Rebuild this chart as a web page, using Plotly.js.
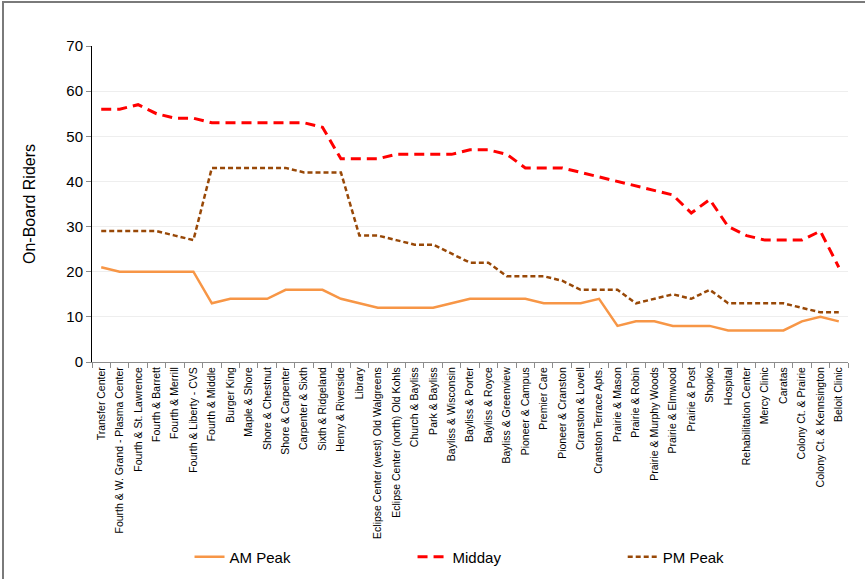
<!DOCTYPE html>
<html>
<head>
<meta charset="utf-8">
<script src="https://cdn.plot.ly/plotly-3.0.1.min.js"></script>
<style>
  html, body { margin: 0; padding: 0; background: #fff; }
  #wrap { position: relative; width: 865px; height: 579px; overflow: hidden; }
  #chart { width: 865px; height: 579px; }
  #frame { position: absolute; left: 2px; top: 1px; width: 900px; height: 700px;
           border-left: 2px solid #7a7a7a; border-top: 2px solid #7a7a7a; pointer-events: none; }
</style>
</head>
<body>
<div id="wrap">
  <div id="chart"></div>
  <div id="frame"></div>
</div>
<script>
const stops = [
  "Transfer Center",
  "Fourth & W. Grand - Plasma Center",
  "Fourth & St. Lawrence",
  "Fourth & Barrett",
  "Fourth & Merrill",
  "Fourth & Liberty - CVS",
  "Fourth & Middle",
  "Burger King",
  "Maple & Shore",
  "Shore & Chestnut",
  "Shore & Carpenter",
  "Carpenter & Sixth",
  "Sixth & Ridgeland",
  "Henry & Riverside",
  "Library",
  "Eclipse Center (west) Old Walgreens",
  "Eclipse Center (north) Old Kohls",
  "Church & Bayliss",
  "Park & Bayliss",
  "Bayliss & Wisconsin",
  "Bayliss & Porter",
  "Bayliss & Royce",
  "Bayliss & Greenview",
  "Pioneer & Campus",
  "Premier Care",
  "Pioneer & Cranston",
  "Cranston & Lovell",
  "Cranston Terrace Apts.",
  "Prairie & Mason",
  "Prairie & Robin",
  "Prairie & Murphy Woods",
  "Prairie & Elmwood",
  "Prairie & Post",
  "Shopko",
  "Hospital",
  "Rehabilitation Center",
  "Mercy Clinic",
  "Caratas",
  "Colony Ct. & Prairie",
  "Colony Ct. & Kennsington",
  "Beloit Clinic"
];

const amPeak = [21,20,20,20,20,20,13,14,14,14,16,16,16,14,13,12,12,12,12,13,14,14,14,14,13,13,13,14,8,9,9,8,8,8,7,7,7,7,9,10,9];
const midday = [56,56,57,55,54,54,53,53,53,53,53,53,52,45,45,45,46,46,46,46,47,47,46,43,43,43,42,41,40,39,38,37,33,36,30,28,27,27,27,29,21];
const pmPeak = [29,29,29,29,28,27,43,43,43,43,43,42,42,42,28,28,27,26,26,24,22,22,19,19,19,18,16,16,16,13,14,15,14,16,13,13,13,13,12,11,11];

const seriesNames = ["AM Peak", "Midday", "PM Peak"];
const yTitle = "On-Board Riders";

const FONT = "Liberation Sans, Arial, sans-serif";

const traces = [
  { x: stops, y: amPeak, name: seriesNames[0], type: "scatter", mode: "lines",
    line: { color: "#F79646", width: 2.5 }, legend: "legend" },
  { x: stops, y: midday, name: seriesNames[1], type: "scatter", mode: "lines",
    line: { color: "#FF0000", width: 3, dash: "10px,6px" }, legend: "legend2" },
  { x: stops, y: pmPeak, name: seriesNames[2], type: "scatter", mode: "lines",
    line: { color: "#984807", width: 2.5, dash: "5px,3px" }, legend: "legend3" }
];

function leg(x) {
  return { x: x, y: -0.617, xanchor: "left", yanchor: "middle", orientation: "h",
           font: { family: FONT, size: 15, color: "#000" }, bgcolor: "rgba(0,0,0,0)" };
}

const layout = {
  width: 865, height: 579,
  margin: { l: 92, r: 17, t: 46, b: 217, autoexpand: false },
  paper_bgcolor: "#fff", plot_bgcolor: "#fff",
  font: { family: FONT, color: "#000" },
  showlegend: true,
  legend: leg(0.129),
  legend2: leg(0.424),
  legend3: leg(0.702),
  xaxis: {
    type: "category",
    range: [-0.5, 40.5],
    showline: true, linecolor: "#8c8c8c", linewidth: 1,
    ticks: "outside", tickson: "boundaries", ticklen: 5, tickcolor: "#8c8c8c",
    showgrid: false, tickangle: -90,
    tickfont: { family: FONT, size: 10.5, color: "#000" },
    automargin: false
  },
  yaxis: {
    range: [0, 70], dtick: 10,
    showline: true, linecolor: "#000", linewidth: 1,
    ticks: "outside", ticklen: 5, tickcolor: "#8c8c8c",
    gridcolor: "#eeeeee", zeroline: false,
    tickfont: { family: FONT, size: 15, color: "#000" },
    title: { text: yTitle, font: { family: FONT, size: 16, color: "#000" }, standoff: 26 },
    automargin: false
  }
};

Plotly.newPlot("chart", traces, layout, { displayModeBar: false, staticPlot: true });
</script>
</body>
</html>
